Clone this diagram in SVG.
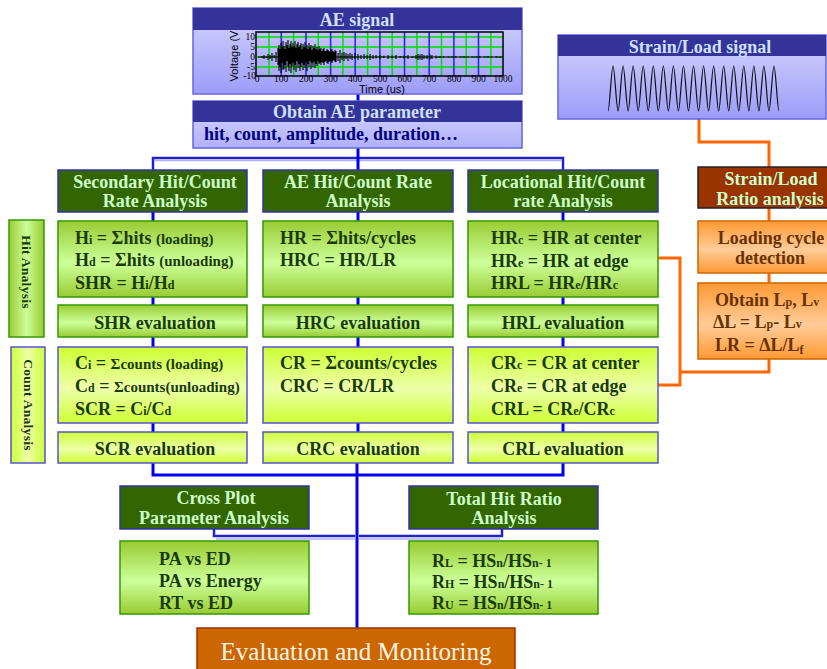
<svg xmlns="http://www.w3.org/2000/svg" width="827" height="669" viewBox="0 0 827 669">
<defs>
<linearGradient id="gBlue" x1="0" y1="0" x2="0" y2="1"><stop offset="0" stop-color="#D4D4FF"/><stop offset="1" stop-color="#9C9CF8"/></linearGradient>
<linearGradient id="gBlue2" x1="0" y1="0" x2="0" y2="1"><stop offset="0" stop-color="#D8D8FF"/><stop offset="1" stop-color="#B0B0FA"/></linearGradient>
<linearGradient id="gGreen" x1="0" y1="0" x2="0" y2="1"><stop offset="0" stop-color="#99CC33"/><stop offset="0.55" stop-color="#CCFF99"/><stop offset="1" stop-color="#99CC33"/></linearGradient>
<linearGradient id="gYellow" x1="0" y1="0" x2="0" y2="1"><stop offset="0" stop-color="#CCFF33"/><stop offset="0.55" stop-color="#EEFFAA"/><stop offset="1" stop-color="#CCFF33"/></linearGradient>
<linearGradient id="gGreenH" x1="0" y1="0" x2="1" y2="0"><stop offset="0" stop-color="#99CC33"/><stop offset="0.5" stop-color="#CCFF99"/><stop offset="1" stop-color="#99CC33"/></linearGradient>
<linearGradient id="gYellowH" x1="0" y1="0" x2="1" y2="0"><stop offset="0" stop-color="#CCFF33"/><stop offset="0.5" stop-color="#EEFFAA"/><stop offset="1" stop-color="#CCFF33"/></linearGradient>
<linearGradient id="gOrange" x1="0" y1="0" x2="0" y2="1"><stop offset="0" stop-color="#FF9933"/><stop offset="0.55" stop-color="#FFCC99"/><stop offset="1" stop-color="#FF9933"/></linearGradient>
</defs>
<style>
.t{font-family:"Liberation Serif",serif;font-weight:bold;font-size:18px}
.c{text-anchor:middle}
.hb{fill:#333399}
.bb{fill:url(#gBlue);stroke:#6666DD;stroke-width:1.5}
.lb{fill:#D0E0FF}
.hg{fill:#336600;stroke:#3333AA;stroke-width:1.5}
.lg{fill:#CCFFCC}
.bg{fill:url(#gGreen);stroke:#339900;stroke-width:1.5}
.by{fill:url(#gYellow);stroke:#5555CC;stroke-width:1.5}
.bo{fill:url(#gOrange);stroke:#CC6600;stroke-width:1.5}
.dk{fill:#1A3A0A}
.br{fill:#663300}
.s{font-size:12px}
.m{font-size:15px}
.side{font-size:13.5px;letter-spacing:0.3px}
.blue{stroke:#0000EE;stroke-width:3;fill:none}
.nav{stroke:#2222CC;stroke-width:2.5;fill:none}
.lav{stroke:#B0B0F0;stroke-width:1.5;fill:none}
.org{stroke:#FF6600;stroke-width:3;fill:none}
.ax{font-family:"Liberation Serif",serif;font-size:9.5px;fill:#000}
.axs{font-family:"Liberation Sans",sans-serif;font-size:11px;fill:#000}
</style>

<g id="connectors">
<path class="nav" d="M153 170V158H563V170"/>
<path class="lav" d="M155 160.5H561"/>
<path class="blue" d="M358 94V101M358 148V170"/>
<path class="blue" d="M153 212V221M153 297V305M153 337V347M153 423V432M358 212V221M358 297V305M358 337V347M358 423V432M563 212V221M563 297V305M563 337V347M563 423V432"/>
<path class="blue" d="M153 463V475H563V463M357 463V628"/>
<path class="nav" d="M214 529V536H355M502 529V536H359"/>
<path class="lav" d="M216 539H355M500 539H359"/>
<path class="org" d="M699 119V142H769V167M769 208V221M769 273V283M769 359V372H680M658 258H680V385H658"/>
</g>

<g id="ae-signal">
<rect x="193" y="8" width="329" height="86" class="bb"/>
<rect x="193" y="8" width="329" height="22" class="hb"/>
<text x="357" y="26" class="t c lb">AE signal</text>
<g id="chart">
<g stroke="#00DD00" stroke-width="1.5">
<path d="M256 37H503M256 47H503M256 67H503"/>
<path d="M256 57H503" stroke-dasharray="8 4"/>
<path d="M269 32V76M293.6 32V76M318.3 32V76M342.9 32V76M367.6 32V76M392.2 32V76M416.9 32V76M441.5 32V76M466.2 32V76M490.9 32V76"/>
</g>
<path stroke="#2222EE" stroke-width="1.5" d="M281.3 32V76M306 32V76M330.6 32V76M355.2 32V76M379.9 32V76M404.5 32V76M429.2 32V76M453.9 32V76M478.5 32V76"/>
<path stroke="#000" stroke-width="1" d="M258 57H503"/>
<path transform="translate(0,1)" stroke="#000" stroke-width="1.1" fill="none" d="M262 55V57M264 54V58M266 55V57M268 53V59M270 54V58M272 52V60M274 54V57M276 51V61M278 47V64M279 44V70M280 48V66M281 42V72M282 46V62M283 40V69M284 45V68M285 48V64M286 41V71M287 44V60M288 39V66M289 47V70M290 43V63M291 40V72M292 46V66M293 42V62M294 45V69M295 40V64M296 47V71M297 43V60M298 41V67M299 46V63M300 44V70M301 42V66M302 48V62M303 43V69M304 46V64M305 41V67M306 47V61M307 44V70M308 48V63M309 42V66M310 46V60M311 44V68M312 49V62M313 45V66M314 47V61M315 43V67M316 48V63M317 46V65M318 49V60M319 45V63M320 48V62M321 47V64M322 50V61M323 48V62M324 47V64M325 50V61M326 50V60M327 48V62M328 49V63M329 50V61M330 51V60M331 49V61M332 48V62M333 50V60M334 51V59M335 49V61M336 50V61M338 52V60M340 49V62M342 52V59M344 51V60M346 52V58M348 53V60M350 52V58M352 53V59M355 52V58M358 53V59M361 54V58M364 53V58M367 54V58M370 53V59M373 54V58M376 54V57.5M380 54V58M384 54.5V57M388 54V58M392 54.5V57.5M396 54V58M400 55V57M404 54.5V57.5M408 54V58M412 55V57M416 54V58M418 53V59M420 53.5V58.5M422 53V59M424 54V58M427 54V58M430 53.5V58.5M432 54V58M436 54.5V57.5M440 55V57M444 55.3V56.8M448 55.3V56.8M452 55.5V56.6M456 55.3V56.8M460 55.5V56.6M464 55.3V56.8M468 55.5V56.6M472 55.3V56.8M476 55.5V56.6M480 55.3V56.8M484 55.5V56.6M488 55.3V56.8M492 55.5V56.6M496 55.3V56.8M500 55.5V56.6"/>
<rect x="256" y="32" width="247" height="44" fill="none" stroke="#000" stroke-width="1.5"/>
<g class="ax" text-anchor="end">
<text x="255" y="40">10</text><text x="255" y="50">5</text><text x="255" y="60">0</text><text x="255" y="70">-5</text><text x="256" y="79">-10</text>
</g>
<g class="ax" text-anchor="middle">
<text x="257" y="82">0</text><text x="281" y="82">100</text><text x="306" y="82">200</text><text x="330.6" y="82">300</text><text x="355.2" y="82">400</text><text x="380" y="82">500</text><text x="404.5" y="82">600</text><text x="429" y="82">700</text><text x="454" y="82">800</text><text x="478.5" y="82">900</text><text x="503" y="82">1000</text>
</g>
<text class="axs" x="382" y="92.5" text-anchor="middle">Time (us)</text>
<text class="axs" transform="translate(238,56) rotate(-90)" text-anchor="middle">Voltage (V</text>
</g>
</g>

<g id="obtain-ae">
<rect x="193" y="101" width="329" height="47" fill="url(#gBlue2)" stroke="#6666DD" stroke-width="1.5"/>
<rect x="193" y="101" width="329" height="21" class="hb"/>
<text x="357" y="118" class="t c lb">Obtain AE parameter</text>
<text x="204" y="140" class="t" fill="#000080">hit, count, amplitude, duration…</text>
</g>

<g id="strain-signal">
<rect x="558" y="35" width="268" height="84" class="bb"/>
<rect x="558" y="35" width="268" height="21" class="hb"/>
<text x="700" y="53" class="t c lb">Strain/Load signal</text>
<path fill="none" stroke="#111" stroke-width="1.2" d="M608 111c1.6 0 3.4-45 5.03-45s3.43 45 5.03 45s3.43-45 5.03-45s3.43 45 5.03 45s3.43-45 5.03-45s3.43 45 5.03 45s3.43-45 5.03-45s3.43 45 5.03 45s3.43-45 5.03-45s3.43 45 5.03 45s3.43-45 5.03-45s3.43 45 5.03 45s3.43-45 5.03-45s3.43 45 5.03 45s3.43-45 5.03-45s3.43 45 5.03 45s3.43-45 5.03-45s3.43 45 5.03 45s3.43-45 5.03-45s3.43 45 5.03 45s3.43-45 5.03-45s3.43 45 5.03 45s3.43-45 5.03-45s3.43 45 5.03 45s3.43-45 5.03-45s3.43 45 5.03 45s3.43-45 5.03-45s3.43 45 5.03 45s3.43-45 5.03-45s3.43 45 5.03 45s3.43-45 5.03-45s3.43 45 5.03 45s3.43-45 5.03-45s3.43 45 5.03 45"/>
</g>

<g id="col1-header">
<rect x="58" y="170" width="189" height="42" class="hg"/>
<text x="155" y="188" class="t c lg">Secondary Hit/Count</text>
<text x="155" y="207" class="t c lg">Rate Analysis</text>
</g>
<g id="col2-header">
<rect x="263" y="170" width="190" height="42" class="hg"/>
<text x="358" y="188" class="t c lg">AE Hit/Count Rate</text>
<text x="358" y="207" class="t c lg">Analysis</text>
</g>
<g id="col3-header">
<rect x="468" y="170" width="190" height="42" class="hg"/>
<text x="563" y="188" class="t c lg">Locational Hit/Count</text>
<text x="563" y="207" class="t c lg">rate Analysis</text>
</g>

<g id="hit-analysis-label">
<rect x="9" y="220" width="35" height="117" fill="url(#gGreenH)" stroke="#339900" stroke-width="1.5"/>
<text class="t c dk side" transform="translate(22,272) rotate(90)">Hit Analysis</text>
</g>
<g id="count-analysis-label">
<rect x="11" y="347" width="34" height="116" fill="url(#gYellowH)" stroke="#5555CC" stroke-width="1.5"/>
<text class="t c dk side" transform="translate(23.5,405) rotate(90)">Count Analysis</text>
</g>

<g id="col1-hit">
<rect x="58" y="221" width="189" height="76" class="bg"/>
<text x="75" y="244" class="t dk">H<tspan class="s">i</tspan> = Σhits  <tspan class="m">(loading)</tspan></text>
<text x="75" y="266" class="t dk">H<tspan class="s">d</tspan> = Σhits  <tspan class="m">(unloading)</tspan></text>
<text x="75" y="289" class="t dk">SHR = H<tspan class="s">i</tspan>/H<tspan class="s">d</tspan></text>
</g>
<g id="col2-hit">
<rect x="263" y="221" width="190" height="76" class="bg"/>
<text x="280" y="244" class="t dk">HR = Σhits/cycles</text>
<text x="280" y="266" class="t dk">HRC = HR/LR</text>
</g>
<g id="col3-hit">
<rect x="468" y="221" width="190" height="76" class="bg"/>
<text x="491" y="244" class="t dk">HR<tspan class="s">c</tspan> = HR at center</text>
<text x="491" y="267" class="t dk">HR<tspan class="s">e</tspan> = HR at edge</text>
<text x="491" y="289" class="t dk">HRL = HR<tspan class="s">e</tspan>/HR<tspan class="s">c</tspan></text>
</g>

<g id="col1-hit-eval">
<rect x="58" y="305" width="189" height="32" class="bg"/>
<text x="155" y="329" class="t c dk">SHR evaluation</text>
</g>
<g id="col2-hit-eval">
<rect x="263" y="305" width="190" height="32" class="bg"/>
<text x="358" y="329" class="t c dk">HRC evaluation</text>
</g>
<g id="col3-hit-eval">
<rect x="468" y="305" width="190" height="32" class="bg"/>
<text x="563" y="329" class="t c dk">HRL evaluation</text>
</g>

<g id="col1-count">
<rect x="58" y="347" width="189" height="76" class="by"/>
<text x="75" y="369" class="t dk">C<tspan class="s">i</tspan> = <tspan class="m">Σcounts  (loading)</tspan></text>
<text x="75" y="392" class="t dk">C<tspan class="s">d</tspan> = <tspan class="m">Σcounts(unloading)</tspan></text>
<text x="75" y="415" class="t dk">SCR = C<tspan class="s">i</tspan>/C<tspan class="s">d</tspan></text>
</g>
<g id="col2-count">
<rect x="263" y="347" width="190" height="76" class="by"/>
<text x="280" y="369" class="t dk">CR = Σcounts/cycles</text>
<text x="280" y="392" class="t dk">CRC = CR/LR</text>
</g>
<g id="col3-count">
<rect x="468" y="347" width="190" height="76" class="by"/>
<text x="491" y="369" class="t dk">CR<tspan class="s">c</tspan> = CR at center</text>
<text x="491" y="392" class="t dk">CR<tspan class="s">e</tspan> = CR at edge</text>
<text x="491" y="415" class="t dk">CRL = CR<tspan class="s">e</tspan>/CR<tspan class="s">c</tspan></text>
</g>

<g id="col1-count-eval">
<rect x="58" y="432" width="189" height="31" class="by"/>
<text x="155" y="455" class="t c dk">SCR evaluation</text>
</g>
<g id="col2-count-eval">
<rect x="263" y="432" width="190" height="31" class="by"/>
<text x="358" y="455" class="t c dk">CRC evaluation</text>
</g>
<g id="col3-count-eval">
<rect x="468" y="432" width="190" height="31" class="by"/>
<text x="563" y="455" class="t c dk">CRL evaluation</text>
</g>

<g id="strain-ratio">
<rect x="698" y="167" width="130" height="41" fill="#993300" stroke="#222" stroke-width="1.5"/>
<text x="771" y="185" class="t c lg">Strain/Load</text>
<text x="770" y="205" class="t c lg">Ratio analysis</text>
</g>
<g id="loading-cycle">
<rect x="698" y="221" width="130" height="52" class="bo"/>
<text x="771" y="244" class="t c br">Loading cycle</text>
<text x="770" y="264" class="t c br">detection</text>
</g>
<g id="obtain-lp">
<rect x="698" y="283" width="130" height="76" class="bo"/>
<text x="715" y="306" class="t br">Obtain L<tspan class="s">p</tspan>, L<tspan class="s">v</tspan></text>
<text x="713" y="328" class="t br">ΔL = L<tspan class="s">p</tspan>- L<tspan class="s">v</tspan></text>
<text x="715" y="351" class="t br">LR = ΔL/L<tspan class="s" dy="3">f</tspan></text>
</g>

<g id="cross-plot-header">
<rect x="120" y="486" width="189" height="43" class="hg"/>
<text x="216" y="504" class="t c lg">Cross Plot</text>
<text x="214" y="524" class="t c lg">Parameter Analysis</text>
</g>
<g id="total-hit-header">
<rect x="409" y="486" width="189" height="43" class="hg"/>
<text x="504" y="505" class="t c lg">Total Hit Ratio</text>
<text x="504" y="524" class="t c lg">Analysis</text>
</g>
<g id="cross-plot-items">
<rect x="120" y="541" width="189" height="73" class="bg"/>
<text x="159" y="565" class="t dk">PA vs ED</text>
<text x="159" y="587" class="t dk">PA vs Energy</text>
<text x="159" y="609" class="t dk">RT vs ED</text>
</g>
<g id="total-hit-items">
<rect x="409" y="541" width="189" height="73" class="bg"/>
<text x="432" y="567" class="t dk">R<tspan class="s">L</tspan> = HS<tspan class="s">n</tspan>/HS<tspan class="s">n- 1</tspan></text>
<text x="432" y="588" class="t dk">R<tspan class="s">H</tspan> = HS<tspan class="s">n</tspan>/HS<tspan class="s">n- 1</tspan></text>
<text x="432" y="609" class="t dk">R<tspan class="s">U</tspan> = HS<tspan class="s">n</tspan>/HS<tspan class="s">n- 1</tspan></text>
</g>

<g id="evaluation-monitoring">
<rect x="197" y="628" width="318" height="45" fill="#CC6600" stroke="#993300" stroke-width="1.5"/>
<text x="356" y="660" font-family="Liberation Serif, serif" font-size="25" text-anchor="middle" fill="#FFF4E6">Evaluation and Monitoring</text>
</g>
</svg>
